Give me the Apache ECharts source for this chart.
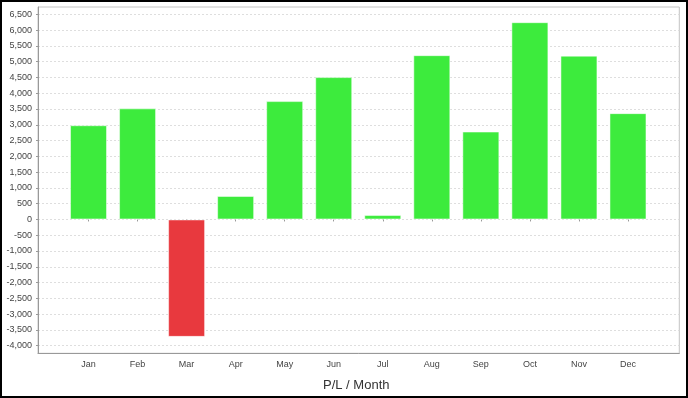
<!DOCTYPE html>
<html>
<head>
<meta charset="utf-8">
<script src="https://cdn.jsdelivr.net/npm/echarts@6/dist/echarts.min.js"></script>
<style>
  html, body { margin: 0; padding: 0; background: #fff; }
  #chart { width: 688px; height: 398px; }
</style>
</head>
<body>
<div id="chart"></div>
<script>
// 月份和盈亏数据
var months = ['Jan', 'Feb', 'Mar', 'Apr', 'May', 'Jun', 'Jul', 'Aug', 'Sep', 'Oct', 'Nov', 'Dec'];
var profit = [2985, 3520, -3720, 745, 3750, 4510, 140, 5205, 2785, 6250, 5190, 3368];
var yMin = -4000;
var yMax = 6500;
var yStep = 500;
var chartTitle = 'P/L / Month';

var myChart = echarts.init(document.getElementById('chart'));

var font = 'Liberation Sans, Arial, sans-serif';

var option = {
    animation: false,
    backgroundColor: '#fff',
    textStyle: { fontFamily: font },
    title: {
        text: chartTitle,
        left: 318,
        top: 374,
        textStyle: { fontSize: 13, fontWeight: 'normal', color: '#333', fontFamily: font }
    },
    graphic: [{
        type: 'rect',
        shape: { x: 1, y: 1, width: 686, height: 396 },
        style: { fill: 'none', stroke: '#000', lineWidth: 2 },
        z: 100
    }],
    grid: [
        // 外框
        { left: 38, right: 8.7, top: 7, bottom: 44.7, show: true, borderColor: '#c4c4c4', borderWidth: 1 },
        // 刻度和网格线
        { left: 38, right: 8.7, top: 14.3, bottom: 52.3 },
        // 柱子
        { left: 64, right: 35.5, top: 14.3, bottom: 52.3 }
    ],
    xAxis: [{
        gridIndex: 0, type: 'value', min: 0, max: 1,
        axisLine: { show: true, lineStyle: { color: '#999' } },
        axisTick: { show: false }, axisLabel: { show: false }, splitLine: { show: false }
    }, {
        gridIndex: 1, type: 'value', min: 0, max: 1, show: false
    }, {
        gridIndex: 2, type: 'category', data: months, offset: 7.6,
        axisLine: { show: false },
        axisTick: { show: true, alignWithLabel: true, length: 2, lineStyle: { color: '#999' } },
        axisLabel: { fontSize: 9, color: '#444', margin: 7, fontFamily: font }
    }],
    yAxis: [{
        gridIndex: 0, type: 'value', min: 0, max: 1,
        axisLine: { show: true, lineStyle: { color: '#999' } },
        axisTick: { show: false }, axisLabel: { show: false }, splitLine: { show: false }
    }, {
        gridIndex: 1, type: 'value', min: yMin, max: yMax, interval: yStep,
        axisLine: { show: false },
        axisTick: { show: true, length: 2, lineStyle: { color: '#999' } },
        axisLabel: {
            fontSize: 9, color: '#444', margin: 6, fontFamily: font,
            formatter: function (v) { return v.toLocaleString('en-US'); }
        },
        splitLine: { show: true, lineStyle: { color: '#dedede', type: [2, 2], width: 1 } }
    }, {
        gridIndex: 2, type: 'value', min: yMin, max: yMax, interval: yStep, show: false
    }],
    series: [{
        name: 'P/L',
        type: 'bar',
        xAxisIndex: 2,
        yAxisIndex: 2,
        data: profit,
        barWidth: 37,
        itemStyle: {
            color: function (p) { return p.value < 0 ? '#e8393e' : '#3deb3d'; },
            borderColor: 'rgba(255,255,255,0.5)',
            borderWidth: 1
        }
    }]
};

myChart.setOption(option);
</script>
</body>
</html>
